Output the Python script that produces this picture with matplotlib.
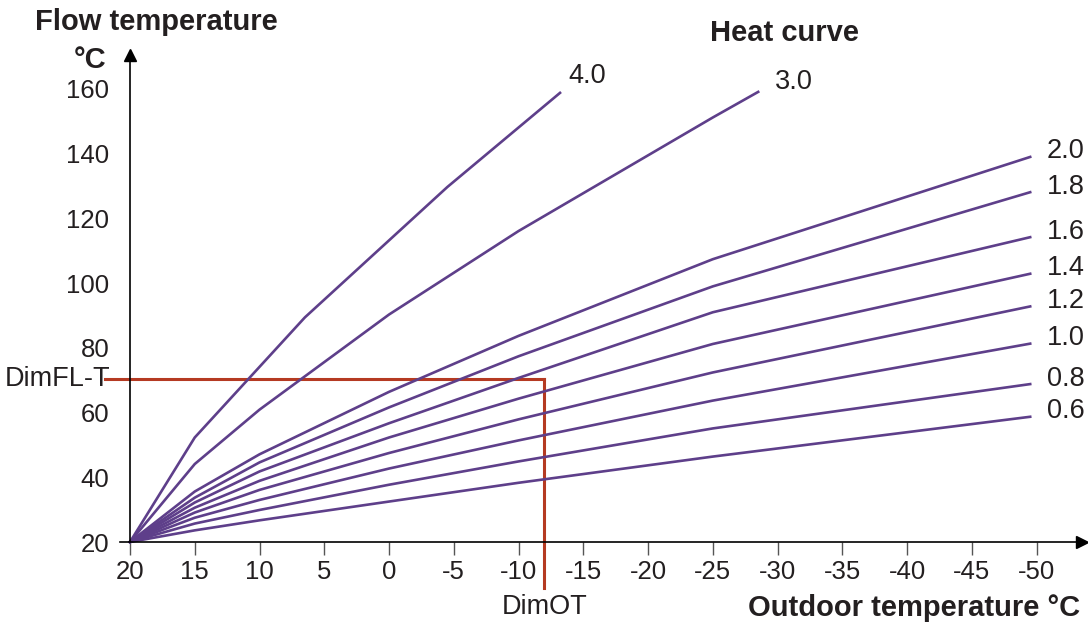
import matplotlib
matplotlib.use("Agg")
import matplotlib.pyplot as plt

plt.rcParams['font.family'] = ['Liberation Sans', 'DejaVu Sans']

# outdoor temperature break points
outdoor = [20, 15, 10, 0, -10, -25, -49.5]
curves = {
    "2.0": [20, 35.6, 47.1, 66.4, 83.7, 107.4, 139.0],
    "1.8": [20, 33.7, 44.6, 61.6, 77.4, 99.0, 128.1],
    "1.6": [20, 32.2, 41.8, 56.7, 70.7, 91.0, 114.2],
    "1.4": [20, 30.6, 38.9, 52.3, 64.3, 81.2, 102.9],
    "1.2": [20, 29.1, 36.1, 47.5, 57.9, 72.4, 92.8],
    "1.0": [20, 27.5, 33.0, 42.7, 51.4, 63.7, 81.3],
    "0.8": [20, 25.7, 29.9, 37.7, 44.9, 55.1, 68.8],
    "0.6": [20, 23.6, 26.7, 32.5, 38.3, 46.4, 58.7],
}
# the two steep curves stop earlier
outdoor_40 = [20, 15, 6.5, -4.5, -13.2]
flow_40 = [20, 52.3, 89.4, 129.7, 158.8]
outdoor_30 = [20, 15, 10, 0, -10, -25, -28.5]
flow_30 = [20, 44.1, 60.9, 90.3, 116.1, 151.2, 159.1]

dim_ot = -12.0
dim_flt = 70.4

x_ticks = list(range(20, -55, -5))
y_ticks = list(range(20, 180, 20))

purple = "#5E3F8A"
red = "#B53A22"
ink = "#231F20"
lab_size = 19.5
tick_size = 18.5
title_size = 21

fig = plt.figure(figsize=(10.88, 6.24), dpi=100)
ax = fig.add_axes([130 / 1088, 1 - 542 / 624, 952 / 1088, 487 / 624])
ax.set_xlim(20, -53.5)
ax.set_ylim(20, 170.5)

lw = 1.9
for name, flow in curves.items():
    ax.plot(outdoor, flow, color=purple, lw=lw, clip_on=False)
    ax.annotate(name, (outdoor[-1], flow[-1]), xytext=(12, 4), textcoords="offset points",
                ha="left", va="center", fontsize=lab_size, color=ink)
ax.plot(outdoor_40, flow_40, color=purple, lw=lw, clip_on=False)
ax.annotate("4.0", (outdoor_40[-1], flow_40[-1]), xytext=(6, 12), textcoords="offset points",
            ha="left", va="center", fontsize=lab_size, color=ink)
ax.plot(outdoor_30, flow_30, color=purple, lw=lw, clip_on=False)
ax.annotate("3.0", (outdoor_30[-1], flow_30[-1]), xytext=(12, 7), textcoords="offset points",
            ha="left", va="center", fontsize=lab_size, color=ink)

# design point lines
ax.plot([21.9, dim_ot], [dim_flt, dim_flt], color=red, lw=2.2, clip_on=False, zorder=1)
ax.plot([dim_ot, dim_ot], [dim_flt, 5.8], color=red, lw=2.2, clip_on=False, zorder=1)
ax.annotate("DimFL-T", (20, dim_flt), xytext=(-14, 0), textcoords="offset points",
            ha="right", va="center", fontsize=lab_size, color=ink)
ax.annotate("DimOT", (dim_ot, 20), xytext=(0, -47), textcoords="offset points",
            ha="center", va="center", fontsize=lab_size, color=ink)

# axes with arrow heads
for s in ["top", "right"]:
    ax.spines[s].set_visible(False)
ax.spines["left"].set_linewidth(1.2)
ax.spines["bottom"].set_linewidth(1.2)
ax.spines["bottom"].set_bounds(20.8, -53.5)
ax.plot(1, 0, ">k", ms=9, transform=ax.transAxes, clip_on=False)
ax.plot(0, 1, "^k", ms=9, transform=ax.transAxes, clip_on=False)

ax.set_xticks(x_ticks)
ax.set_xticklabels([str(t) for t in x_ticks])
ax.set_yticks(y_ticks)
ax.tick_params(axis="x", length=9, width=1, color="#555555", pad=4, labelsize=tick_size, labelcolor=ink)
ax.tick_params(axis="y", length=0, pad=15, labelsize=tick_size, labelcolor=ink)

fig.text(156 / 1088, 1 - 22 / 624, "Flow temperature", ha="center", va="center",
         fontsize=title_size, fontweight="bold", color=ink)
fig.text(90 / 1088, 1 - 60 / 624, "°C", ha="center", va="center",
         fontsize=title_size, fontweight="bold", color=ink)
fig.text(785 / 1088, 1 - 33 / 624, "Heat curve", ha="center", va="center",
         fontsize=title_size, fontweight="bold", color=ink)
fig.text(1080 / 1088, 1 - 608 / 624, "Outdoor temperature °C", ha="right", va="center",
         fontsize=title_size, fontweight="bold", color=ink)

fig.savefig("out.png", dpi=100)
